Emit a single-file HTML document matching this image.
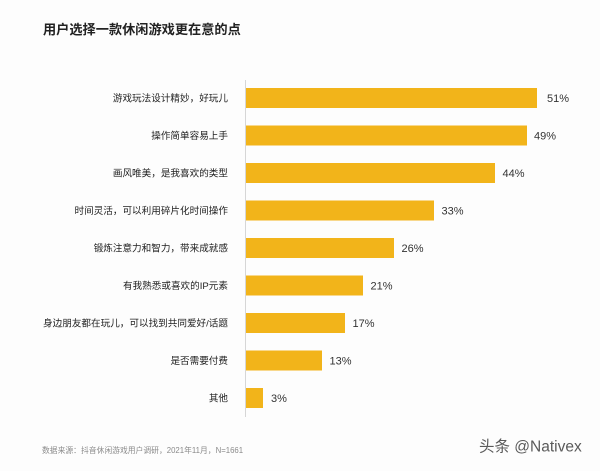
<!DOCTYPE html>
<html><head><meta charset="utf-8"><style>
html,body{margin:0;padding:0;background:#fdfdfd;}
svg{display:block;}
</style></head><body>
<svg width="600" height="471" viewBox="0 0 600 471" xmlns="http://www.w3.org/2000/svg">
<rect width="600" height="471" fill="#fdfdfd"/>
<text x="43" y="34" font-family="'Liberation Sans','Noto Sans CJK SC',sans-serif" font-size="13.2" font-weight="bold" fill="#222">用户选择一款休闲游戏更在意的点</text>
<line x1="245.5" y1="80" x2="245.5" y2="417" stroke="#d6d6d6" stroke-width="1"/>
<g fill="#f2b41a">
<rect x="246" y="88" width="291" height="20"/>
<rect x="246" y="125.5" width="281" height="20"/>
<rect x="246" y="163" width="249" height="20"/>
<rect x="246" y="200.5" width="188" height="20"/>
<rect x="246" y="238" width="148" height="20"/>
<rect x="246" y="275.5" width="117" height="20"/>
<rect x="246" y="313" width="99" height="20"/>
<rect x="246" y="350.5" width="76" height="20"/>
<rect x="246" y="388" width="17" height="20"/>
</g>
<g font-family="'Liberation Sans','Noto Sans CJK SC',sans-serif" font-size="9.6" fill="#222" text-anchor="end">
<text x="228" y="101.5">游戏玩法设计精妙，好玩儿</text>
<text x="228" y="139">操作简单容易上手</text>
<text x="228" y="176.5">画风唯美，是我喜欢的类型</text>
<text x="228" y="214">时间灵活，可以利用碎片化时间操作</text>
<text x="228" y="251.5">锻炼注意力和智力，带来成就感</text>
<text x="228" y="289">有我熟悉或喜欢的IP元素</text>
<text x="228" y="326.5">身边朋友都在玩儿，可以找到共同爱好/话题</text>
<text x="228" y="364">是否需要付费</text>
<text x="228" y="401.5">其他</text>
</g>
<g font-family="'Liberation Sans',sans-serif" font-size="11" fill="#333">
<text x="547" y="102">51%</text>
<text x="534" y="139.5">49%</text>
<text x="502.5" y="177">44%</text>
<text x="441.5" y="214.5">33%</text>
<text x="401.5" y="252">26%</text>
<text x="370.5" y="289.5">21%</text>
<text x="352.5" y="327">17%</text>
<text x="329.5" y="364.5">13%</text>
<text x="271" y="402">3%</text>
</g>
<text x="42" y="453" font-family="'Liberation Sans','Noto Sans CJK SC',sans-serif" font-size="7.8" fill="#8a8a8a">数据来源：抖音休闲游戏用户调研，2021年11月，N=1661</text>
<text x="479" y="451.5" font-family="'Liberation Sans','Noto Sans CJK SC',sans-serif" font-size="15.5" fill="#5a5a5a">头条 @Nativex</text>
</svg>
</body></html>
